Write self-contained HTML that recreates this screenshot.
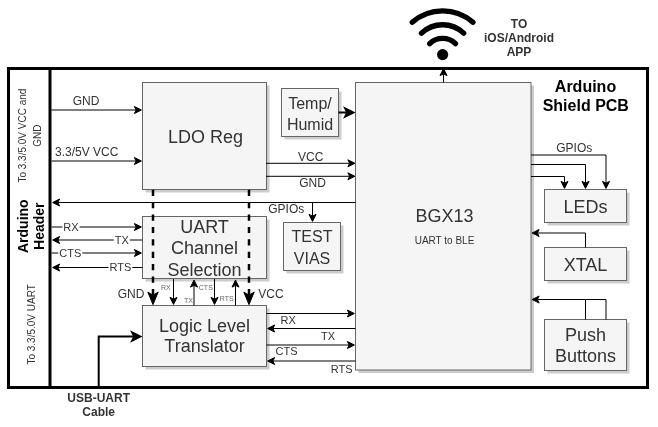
<!DOCTYPE html>
<html><head><meta charset="utf-8"><style>
html,body{margin:0;padding:0;background:#fff;width:658px;height:427px;overflow:hidden}
svg{display:block;will-change:transform;font-family:"Liberation Sans",sans-serif}
</style></head><body>
<svg width="658" height="427" viewBox="0 0 658 427">
<rect x="8.5" y="68.5" width="639" height="319" fill="none" stroke="#000" stroke-width="3"/>
<line x1="50" y1="68.5" x2="50" y2="387.5" stroke="#000" stroke-width="3"/>
<path d="M412.25,22.30 A46.10,46.10 0 0 1 472.95,22.30" fill="none" stroke="#000" stroke-width="5.4" stroke-linecap="round"/>
<path d="M421.50,33.10 A30.70,30.70 0 0 1 463.70,33.10" fill="none" stroke="#000" stroke-width="5.4" stroke-linecap="round"/>
<path d="M429.70,43.60 A18.60,18.60 0 0 1 455.50,43.60" fill="none" stroke="#000" stroke-width="5.4" stroke-linecap="round"/>
<circle cx="442.6" cy="54.6" r="5.6" fill="#000"/>
<text x="519" y="27.5" font-size="12" fill="#333333" font-weight="bold" text-anchor="middle">TO</text>
<text x="519" y="41.9" font-size="12" fill="#333333" font-weight="bold" text-anchor="middle">iOS/Android</text>
<text x="519" y="55.9" font-size="12" fill="#333333" font-weight="bold" text-anchor="middle">APP</text>
<text x="585.5" y="91.7" font-size="16" fill="#000" font-weight="bold" text-anchor="middle">Arduino</text>
<text x="585.8" y="110.7" font-size="16" fill="#000" font-weight="bold" text-anchor="middle">Shield PCB</text>
<text transform="translate(26.3,135.6) rotate(-90)" font-size="10" fill="#333333" text-anchor="middle">To 3.3/5.0V VCC and</text>
<text transform="translate(41.4,135.6) rotate(-90)" font-size="10" fill="#333333" text-anchor="middle">GND</text>
<text transform="translate(28.4,226.2) rotate(-90)" font-size="14" fill="#000" font-weight="bold" text-anchor="middle">Arduino</text>
<text transform="translate(44.3,226.2) rotate(-90)" font-size="14" fill="#000" font-weight="bold" text-anchor="middle">Header</text>
<text transform="translate(34.5,324.4) rotate(-90)" font-size="10" fill="#333333" text-anchor="middle">To 3.3/5.0V UART</text>
<rect x="145.5" y="85.5" width="124" height="107" fill="#000" fill-opacity="0.2" stroke="none"/>
<rect x="142.5" y="82.5" width="124" height="107" fill="#f5f5f5" stroke="#666666"/>
<rect x="284.5" y="91.5" width="57" height="48" fill="#000" fill-opacity="0.2" stroke="none"/>
<rect x="281.5" y="88.5" width="57" height="48" fill="#f5f5f5" stroke="#666666"/>
<rect x="358.5" y="85.5" width="175.5" height="287.5" fill="#000" fill-opacity="0.2" stroke="none"/>
<rect x="355.5" y="82.5" width="175.5" height="287.5" fill="#f5f5f5" stroke="#666666"/>
<rect x="145.5" y="219.5" width="124" height="62" fill="#000" fill-opacity="0.2" stroke="none"/>
<rect x="142.5" y="216.5" width="124" height="62" fill="#f5f5f5" stroke="#666666"/>
<rect x="286.5" y="225.5" width="57" height="48" fill="#000" fill-opacity="0.2" stroke="none"/>
<rect x="283.5" y="222.5" width="57" height="48" fill="#f5f5f5" stroke="#666666"/>
<rect x="145.5" y="308.5" width="124" height="61" fill="#000" fill-opacity="0.2" stroke="none"/>
<rect x="142.5" y="305.5" width="124" height="61" fill="#f5f5f5" stroke="#666666"/>
<rect x="547.5" y="192.5" width="82" height="33" fill="#000" fill-opacity="0.2" stroke="none"/>
<rect x="544.5" y="189.5" width="82" height="33" fill="#f5f5f5" stroke="#666666"/>
<rect x="547.5" y="250.5" width="82" height="33" fill="#000" fill-opacity="0.2" stroke="none"/>
<rect x="544.5" y="247.5" width="82" height="33" fill="#f5f5f5" stroke="#666666"/>
<rect x="547.5" y="322.5" width="82" height="51" fill="#000" fill-opacity="0.2" stroke="none"/>
<rect x="544.5" y="319.5" width="82" height="51" fill="#f5f5f5" stroke="#666666"/>
<text x="205.5" y="142.6" font-size="18" fill="#333333" font-weight="normal" text-anchor="middle">LDO Reg</text>
<text x="310" y="108.8" font-size="16" fill="#333333" font-weight="normal" text-anchor="middle">Temp/</text>
<text x="310" y="130" font-size="16" fill="#333333" font-weight="normal" text-anchor="middle">Humid</text>
<text x="444.5" y="222" font-size="18" fill="#333333" font-weight="normal" text-anchor="middle">BGX13</text>
<text x="444.5" y="243.8" font-size="10" fill="#333333" font-weight="normal" text-anchor="middle">UART to BLE</text>
<text x="204.5" y="232.7" font-size="18" fill="#333333" font-weight="normal" text-anchor="middle">UART</text>
<text x="204.5" y="254.2" font-size="18" fill="#333333" font-weight="normal" text-anchor="middle">Channel</text>
<text x="204.5" y="275.7" font-size="18" fill="#333333" font-weight="normal" text-anchor="middle">Selection</text>
<text x="312" y="242" font-size="16" fill="#333333" font-weight="normal" text-anchor="middle">TEST</text>
<text x="312" y="263.5" font-size="16" fill="#333333" font-weight="normal" text-anchor="middle">VIAS</text>
<text x="204.5" y="331.6" font-size="18" fill="#333333" font-weight="normal" text-anchor="middle">Logic Level</text>
<text x="204.5" y="352.4" font-size="18" fill="#333333" font-weight="normal" text-anchor="middle">Translator</text>
<text x="585.5" y="213" font-size="18" fill="#333333" font-weight="normal" text-anchor="middle">LEDs</text>
<text x="585.5" y="270.7" font-size="18" fill="#333333" font-weight="normal" text-anchor="middle">XTAL</text>
<text x="585.5" y="340.8" font-size="18" fill="#333333" font-weight="normal" text-anchor="middle">Push</text>
<text x="585.5" y="361.8" font-size="18" fill="#333333" font-weight="normal" text-anchor="middle">Buttons</text>
<path d="M51.50,110.00 L136.13,110.00" fill="none" stroke="#000" stroke-width="1"/><path d="M141.38,110.00 L134.38,113.50 L136.13,110.00 L134.38,106.50 Z" fill="#000" stroke="#000" stroke-width="1" stroke-linejoin="miter"/>
<text x="86" y="104.7" font-size="12" fill="#333333" font-weight="normal" text-anchor="middle">GND</text>
<path d="M51.50,161.00 L136.13,161.00" fill="none" stroke="#000" stroke-width="1"/><path d="M141.38,161.00 L134.38,164.50 L136.13,161.00 L134.38,157.50 Z" fill="#000" stroke="#000" stroke-width="1" stroke-linejoin="miter"/>
<text x="86.7" y="155.7" font-size="12" fill="#333333" font-weight="normal" text-anchor="middle">3.3/5V VCC</text>
<path d="M266.00,163.30 L349.63,163.30" fill="none" stroke="#000" stroke-width="1"/><path d="M354.88,163.30 L347.88,166.80 L349.63,163.30 L347.88,159.80 Z" fill="#000" stroke="#000" stroke-width="1" stroke-linejoin="miter"/>
<text x="310.7" y="160.6" font-size="12" fill="#333333" font-weight="normal" text-anchor="middle">VCC</text>
<path d="M266.00,176.30 L349.63,176.30" fill="none" stroke="#000" stroke-width="1"/><path d="M354.88,176.30 L347.88,179.80 L349.63,176.30 L347.88,172.80 Z" fill="#000" stroke="#000" stroke-width="1" stroke-linejoin="miter"/>
<text x="312.5" y="187.2" font-size="12" fill="#333333" font-weight="normal" text-anchor="middle">GND</text>
<path d="M338.50,112.50 L347.26,112.50" fill="none" stroke="#000" stroke-width="2"/><path d="M353.26,112.50 L345.26,116.50 L347.26,112.50 L345.26,108.50 Z" fill="#000" stroke="#000" stroke-width="2" stroke-linejoin="miter"/>
<path d="M355.50,202.50 L57.87,202.50" fill="none" stroke="#000" stroke-width="1"/><path d="M52.62,202.50 L59.62,199.00 L57.87,202.50 L59.62,206.00 Z" fill="#000" stroke="#000" stroke-width="1" stroke-linejoin="miter"/>
<path d="M312.50,202.50 L312.50,216.13" fill="none" stroke="#000" stroke-width="1"/><path d="M312.50,221.38 L309.00,214.38 L312.50,216.13 L316.00,214.38 Z" fill="#000" stroke="#000" stroke-width="1" stroke-linejoin="miter"/>
<text x="286.3" y="213.3" font-size="12" fill="#333333" font-weight="normal" text-anchor="middle">GPIOs</text>
<path d="M51.50,227.00 L136.13,227.00" fill="none" stroke="#000" stroke-width="1"/><path d="M141.38,227.00 L134.38,230.50 L136.13,227.00 L134.38,223.50 Z" fill="#000" stroke="#000" stroke-width="1" stroke-linejoin="miter"/>
<rect x="62.36" y="220.40" width="17.28" height="13.20" fill="#fff"/>
<text x="71" y="230.96" font-size="11" fill="#333333" text-anchor="middle">RX</text>
<path d="M142.50,240.00 L57.87,240.00" fill="none" stroke="#000" stroke-width="1"/><path d="M52.62,240.00 L59.62,236.50 L57.87,240.00 L59.62,243.50 Z" fill="#000" stroke="#000" stroke-width="1" stroke-linejoin="miter"/>
<rect x="113.77" y="233.40" width="16.06" height="13.20" fill="#fff"/>
<text x="121.8" y="243.96" font-size="11" fill="#333333" text-anchor="middle">TX</text>
<path d="M51.50,253.00 L136.13,253.00" fill="none" stroke="#000" stroke-width="1"/><path d="M141.38,253.00 L134.38,256.50 L136.13,253.00 L134.38,249.50 Z" fill="#000" stroke="#000" stroke-width="1" stroke-linejoin="miter"/>
<rect x="58.30" y="246.40" width="24.00" height="13.20" fill="#fff"/>
<text x="70.3" y="256.96" font-size="11" fill="#333333" text-anchor="middle">CTS</text>
<path d="M142.50,267.50 L57.87,267.50" fill="none" stroke="#000" stroke-width="1"/><path d="M52.62,267.50 L59.62,264.00 L57.87,267.50 L59.62,271.00 Z" fill="#000" stroke="#000" stroke-width="1" stroke-linejoin="miter"/>
<rect x="108.50" y="260.90" width="23.80" height="13.20" fill="#fff"/>
<text x="120.4" y="271.46" font-size="11" fill="#333333" text-anchor="middle">RTS</text>
<path d="M153,189.7 L153,297" fill="none" stroke="#000" stroke-width="2.5" stroke-dasharray="6.2 6.2"/>
<path d="M153,304.6 L147.8,292 L153,295.2 L158.2,292 Z" fill="#000" stroke="#000" stroke-width="1" stroke-linejoin="round"/>
<path d="M249,189.7 L249,297" fill="none" stroke="#000" stroke-width="2.5" stroke-dasharray="6.2 6.2"/>
<path d="M249,304.6 L243.8,292 L249,295.2 L254.2,292 Z" fill="#000" stroke="#000" stroke-width="1" stroke-linejoin="round"/>
<text x="131" y="298.1" font-size="12" fill="#333333" font-weight="normal" text-anchor="middle">GND</text>
<text x="271" y="298.1" font-size="12" fill="#333333" font-weight="normal" text-anchor="middle">VCC</text>
<path d="M173.50,279.00 L173.50,299.13" fill="none" stroke="#000" stroke-width="1"/><path d="M173.50,304.38 L170.00,297.38 L173.50,299.13 L177.00,297.38 Z" fill="#000" stroke="#000" stroke-width="1" stroke-linejoin="miter"/>
<path d="M194.00,305.50 L194.00,285.37" fill="none" stroke="#000" stroke-width="1"/><path d="M194.00,280.12 L197.50,287.12 L194.00,285.37 L190.50,287.12 Z" fill="#000" stroke="#000" stroke-width="1" stroke-linejoin="miter"/>
<path d="M214.50,279.00 L214.50,299.13" fill="none" stroke="#000" stroke-width="1"/><path d="M214.50,304.38 L211.00,297.38 L214.50,299.13 L218.00,297.38 Z" fill="#000" stroke="#000" stroke-width="1" stroke-linejoin="miter"/>
<path d="M235.50,305.50 L235.50,285.37" fill="none" stroke="#000" stroke-width="1"/><path d="M235.50,280.12 L239.00,287.12 L235.50,285.37 L232.00,287.12 Z" fill="#000" stroke="#000" stroke-width="1" stroke-linejoin="miter"/>
<text x="165.9" y="290" font-size="7" fill="#666666" font-weight="normal" text-anchor="middle">RX</text>
<text x="188.4" y="302.6" font-size="7" fill="#666666" font-weight="normal" text-anchor="middle">TX</text>
<text x="205.8" y="290" font-size="7" fill="#666666" font-weight="normal" text-anchor="middle">CTS</text>
<text x="226.7" y="300.6" font-size="7" fill="#666666" font-weight="normal" text-anchor="middle">RTS</text>
<path d="M266.50,313.50 L349.13,313.50" fill="none" stroke="#000" stroke-width="1"/><path d="M354.38,313.50 L347.38,317.00 L349.13,313.50 L347.38,310.00 Z" fill="#000" stroke="#000" stroke-width="1" stroke-linejoin="miter"/>
<text x="288.2" y="324" font-size="11" fill="#333333" font-weight="normal" text-anchor="middle">RX</text>
<path d="M355.50,328.50 L272.87,328.50" fill="none" stroke="#000" stroke-width="1"/><path d="M267.62,328.50 L274.62,325.00 L272.87,328.50 L274.62,332.00 Z" fill="#000" stroke="#000" stroke-width="1" stroke-linejoin="miter"/>
<text x="328" y="340.1" font-size="11" fill="#333333" font-weight="normal" text-anchor="middle">TX</text>
<path d="M266.50,345.00 L349.13,345.00" fill="none" stroke="#000" stroke-width="1"/><path d="M354.38,345.00 L347.38,348.50 L349.13,345.00 L347.38,341.50 Z" fill="#000" stroke="#000" stroke-width="1" stroke-linejoin="miter"/>
<text x="286.5" y="354.6" font-size="11" fill="#333333" font-weight="normal" text-anchor="middle">CTS</text>
<path d="M355.50,361.00 L272.87,361.00" fill="none" stroke="#000" stroke-width="1"/><path d="M267.62,361.00 L274.62,357.50 L272.87,361.00 L274.62,364.50 Z" fill="#000" stroke="#000" stroke-width="1" stroke-linejoin="miter"/>
<text x="341.6" y="372.7" font-size="11" fill="#333333" font-weight="normal" text-anchor="middle">RTS</text>
<path d="M98.70,387.00 L98.70,336.60 L134.26,336.60" fill="none" stroke="#000" stroke-width="2"/><path d="M140.26,336.60 L132.26,340.60 L134.26,336.60 L132.26,332.60 Z" fill="#000" stroke="#000" stroke-width="2" stroke-linejoin="miter"/>
<text x="98.7" y="401.6" font-size="12" fill="#333333" font-weight="bold" text-anchor="middle">USB-UART</text>
<text x="98.7" y="415.8" font-size="12" fill="#333333" font-weight="bold" text-anchor="middle">Cable</text>
<path d="M443.50,82.50 L443.50,73.87" fill="none" stroke="#000" stroke-width="1"/><path d="M443.50,68.62 L447.00,75.62 L443.50,73.87 L440.00,75.62 Z" fill="#000" stroke="#000" stroke-width="1" stroke-linejoin="miter"/>
<path d="M531.00,155.00 L606.00,155.00 L606.00,183.13" fill="none" stroke="#000" stroke-width="1"/><path d="M606.00,188.38 L602.50,181.38 L606.00,183.13 L609.50,181.38 Z" fill="#000" stroke="#000" stroke-width="1" stroke-linejoin="miter"/>
<path d="M531.00,164.50 L585.50,164.50 L585.50,183.13" fill="none" stroke="#000" stroke-width="1"/><path d="M585.50,188.38 L582.00,181.38 L585.50,183.13 L589.00,181.38 Z" fill="#000" stroke="#000" stroke-width="1" stroke-linejoin="miter"/>
<path d="M531.00,176.50 L564.50,176.50 L564.50,183.13" fill="none" stroke="#000" stroke-width="1"/><path d="M564.50,188.38 L561.00,181.38 L564.50,183.13 L568.00,181.38 Z" fill="#000" stroke="#000" stroke-width="1" stroke-linejoin="miter"/>
<text x="574.3" y="152" font-size="12" fill="#333333" font-weight="normal" text-anchor="middle">GPIOs</text>
<path d="M585.50,247.50 L585.50,233.00 L537.37,233.00" fill="none" stroke="#000" stroke-width="1"/><path d="M532.12,233.00 L539.12,229.50 L537.37,233.00 L539.12,236.50 Z" fill="#000" stroke="#000" stroke-width="1" stroke-linejoin="miter"/>
<path d="M606.00,319.50 L606.00,299.50 L585.50,299.50" fill="none" stroke="#000" stroke-width="1"/>
<path d="M585.50,319.50 L585.50,299.50 L537.37,299.50" fill="none" stroke="#000" stroke-width="1"/><path d="M532.12,299.50 L539.12,296.00 L537.37,299.50 L539.12,303.00 Z" fill="#000" stroke="#000" stroke-width="1" stroke-linejoin="miter"/>
</svg>
</body></html>
